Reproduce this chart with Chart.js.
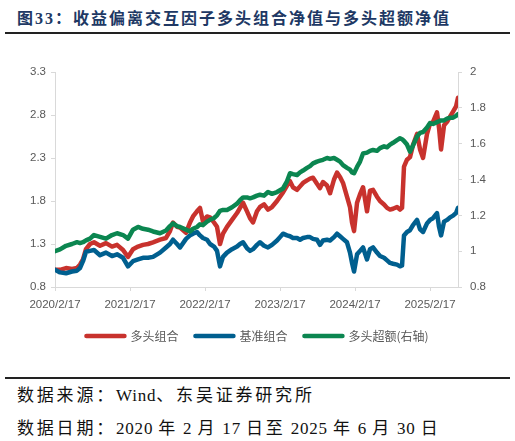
<!DOCTYPE html>
<html>
<head>
<meta charset="utf-8">
<script src="https://cdn.jsdelivr.net/npm/chart.js@4.4.1/dist/chart.umd.min.js"></script>
<style>
  html, body { margin: 0; padding: 0; background: #fff; }
  body { width: 515px; height: 441px; position: relative; overflow: hidden; }
  .title { position: absolute; left: 17px; top: 5px; font-family: "Liberation Serif", "Noto Sans CJK SC"; font-size: 16px; font-weight: bold; color: #203864; letter-spacing: 2px; white-space: nowrap; }
  .rule { position: absolute; left: 5px; width: 505px; height: 2px; background: #222; }
  .note { position: absolute; left: 17px; font-family: "Liberation Serif", "Noto Sans CJK SC"; font-size: 17px; color: #111; white-space: nowrap; letter-spacing: 2.8px; }
  .note .n { letter-spacing: 0.8px; }
  #wrap { position: absolute; left: 0; top: 40px; width: 515px; height: 312px; }
</style>
</head>
<body>
<div class="title">图33：收益偏离交互因子多头组合净值与多头超额净值</div>
<div class="rule" style="top:32px"></div>
<div id="wrap"><canvas id="chart" width="515" height="312"></canvas></div>
<div class="rule" style="top:377px"></div>
<div class="note" style="top:381px">数据来源：<span class="n">Wind</span>、东吴证券研究所</div>
<div class="note" style="top:414px">数据日期：<span class="n">2020 </span>年<span class="n"> 2 </span>月<span class="n"> 17 </span>日至<span class="n"> 2025 </span>年<span class="n"> 6 </span>月<span class="n"> 30 </span>日</div>

<script>
// years since 2020/2/17
const years = [0, 0.067, 0.147, 0.227, 0.293, 0.333, 0.373, 0.413, 0.467, 0.52,
  0.6, 0.68, 0.76, 0.827, 0.907, 0.973, 1.04, 1.107, 1.173, 1.24,
  1.307, 1.4, 1.48, 1.533, 1.573, 1.627, 1.667, 1.747, 1.8, 1.84,
  1.893, 1.933, 1.973, 2.027, 2.067, 2.12, 2.16, 2.2, 2.24, 2.293,
  2.36, 2.427, 2.467, 2.507, 2.56, 2.6, 2.64, 2.693, 2.733, 2.787,
  2.84, 2.893, 2.96, 3.0, 3.04, 3.093, 3.133, 3.173, 3.227, 3.267,
  3.307, 3.36, 3.4, 3.44, 3.493, 3.533, 3.573, 3.627, 3.667, 3.72,
  3.76, 3.8, 3.84, 3.893, 3.933, 3.96, 3.987, 4.027, 4.067, 4.107,
  4.16, 4.2, 4.24, 4.293, 4.333, 4.387, 4.427, 4.467, 4.507, 4.56,
  4.6, 4.627, 4.653, 4.693, 4.733, 4.773, 4.827, 4.867, 4.907, 4.96,
  5.0, 5.04, 5.093, 5.12, 5.147, 5.187, 5.227, 5.267, 5.307, 5.347,
  5.373]

// 多头组合 (left axis)
const longNav = [1.00, 1.00, 1.02, 1.01, 1.02, 1.06, 1.12, 1.24, 1.30, 1.32,
  1.28, 1.31, 1.27, 1.29, 1.23, 1.15, 1.24, 1.27, 1.29, 1.30,
  1.32, 1.35, 1.37, 1.45, 1.55, 1.50, 1.49, 1.43, 1.55, 1.62,
  1.68, 1.72, 1.56, 1.62, 1.61, 1.55, 1.50, 1.30, 1.42, 1.50,
  1.58, 1.66, 1.72, 1.78, 1.68, 1.60, 1.55, 1.68, 1.73, 1.76,
  1.70, 1.73, 1.80, 1.85, 1.90, 1.98, 2.03, 1.96, 1.93, 1.97,
  2.01, 2.04, 2.06, 2.07, 2.00, 1.95, 2.02, 1.98, 1.89, 2.05,
  2.13, 2.08, 2.01, 1.85, 1.73, 1.55, 1.45, 1.78, 1.88, 1.96,
  1.68, 1.92, 1.93, 1.85, 1.80, 1.76, 1.72, 1.70, 1.71, 1.73,
  1.70, 1.72, 2.20, 2.28, 2.31, 2.45, 2.58, 2.40, 2.30, 2.58,
  2.70, 2.72, 2.83, 2.65, 2.40, 2.68, 2.72, 2.78, 2.84, 2.90,
  3.00]

// 基准组合 (left axis)
const benchNav = [1.00, 0.97, 0.96, 0.98, 0.99, 1.02, 1.10, 1.21, 1.22, 1.23,
  1.17, 1.20, 1.16, 1.18, 1.14, 1.04, 1.10, 1.12, 1.14, 1.14,
  1.15, 1.20, 1.26, 1.30, 1.35, 1.30, 1.26, 1.36, 1.40, 1.42,
  1.44, 1.40, 1.37, 1.35, 1.30, 1.27, 1.22, 1.04, 1.15, 1.20,
  1.24, 1.27, 1.30, 1.32, 1.25, 1.22, 1.24, 1.29, 1.32, 1.28,
  1.26, 1.29, 1.34, 1.38, 1.42, 1.40, 1.39, 1.37, 1.37, 1.35,
  1.37, 1.38, 1.38, 1.36, 1.35, 1.29, 1.34, 1.35, 1.34, 1.38,
  1.42, 1.39, 1.36, 1.32, 1.20, 1.08, 0.98, 1.18, 1.22, 1.26,
  1.12, 1.24, 1.26, 1.20, 1.16, 1.14, 1.11, 1.08, 1.07, 1.06,
  1.04, 1.05, 1.40, 1.44, 1.46, 1.52, 1.58, 1.47, 1.44, 1.54,
  1.58, 1.60, 1.66, 1.50, 1.40, 1.56, 1.58, 1.61, 1.63, 1.66,
  1.72]

// 多头超额 (right axis)
const excessNav = [1.00, 1.01, 1.03, 1.04, 1.05, 1.045, 1.05, 1.06, 1.07, 1.09,
  1.08, 1.07, 1.09, 1.10, 1.09, 1.07, 1.12, 1.135, 1.125, 1.12,
  1.11, 1.10, 1.115, 1.14, 1.155, 1.14, 1.135, 1.12, 1.11, 1.125,
  1.135, 1.15, 1.145, 1.165, 1.175, 1.185, 1.20, 1.225, 1.23, 1.23,
  1.245, 1.265, 1.285, 1.30, 1.30, 1.295, 1.30, 1.31, 1.315, 1.31,
  1.33, 1.32, 1.33, 1.34, 1.35, 1.39, 1.435, 1.43, 1.425, 1.44,
  1.45, 1.465, 1.475, 1.49, 1.50, 1.505, 1.51, 1.52, 1.515, 1.52,
  1.51, 1.50, 1.48, 1.465, 1.455, 1.44, 1.435, 1.47, 1.50, 1.545,
  1.55, 1.56, 1.565, 1.56, 1.575, 1.585, 1.58, 1.595, 1.605, 1.62,
  1.63, 1.625, 1.615, 1.595, 1.555, 1.59, 1.64, 1.66, 1.665, 1.69,
  1.715, 1.71, 1.72, 1.725, 1.73, 1.73, 1.74, 1.745, 1.745, 1.755,
  1.765]

const xTickLabels = ['2020/2/17', '2021/2/17', '2022/2/17', '2023/2/17', '2024/2/17', '2025/2/17']
const seriesNames = ['多头组合', '基准组合', '多头超额(右轴)']
const seriesColors = ['#c8322d', '#005f8f', '#0b8650']

const toPoints = (vals) => vals.map((v, i) => ({x: years[i], y: v}))
const tickFont = {family: 'Liberation Sans', size: 11.5}
const axisGray = '#d9d9d9'

const ctx = document.getElementById('chart').getContext('2d')
new Chart(ctx, {
  type: 'line',
  data: {
    datasets: [{
      label: seriesNames[0],
      data: toPoints(longNav),
      borderColor: seriesColors[0],
      backgroundColor: seriesColors[0],
      yAxisID: 'y',
      order: 3
    }, {
      label: seriesNames[1],
      data: toPoints(benchNav),
      borderColor: seriesColors[1],
      backgroundColor: seriesColors[1],
      yAxisID: 'y',
      order: 2
    }, {
      label: seriesNames[2],
      data: toPoints(excessNav),
      borderColor: seriesColors[2],
      backgroundColor: seriesColors[2],
      yAxisID: 'y1',
      order: 1
    }]
  },
  options: {
    responsive: false,
    animation: false,
    layout: {padding: {top: 32, left: 0, right: 0, bottom: 0}},
    elements: {
      line: {borderWidth: 4.5, tension: 0, borderCapStyle: 'round', borderJoinStyle: 'round'},
      point: {radius: 0}
    },
    plugins: {
      tooltip: {enabled: false},
      legend: {
        position: 'bottom',
        labels: {
          usePointStyle: true,
          pointStyle: 'line',
          pointStyleWidth: 38,
          padding: 17,
          color: '#595959',
          font: {family: 'Noto Sans CJK SC', size: 12},
          sort: (a, b) => a.datasetIndex - b.datasetIndex,
          generateLabels: (chart) => {
            const items = Chart.defaults.plugins.legend.labels.generateLabels(chart)
            items.forEach((item) => {
              item.lineWidth = 4.5
              item.lineCap = 'round'
            })
            return items
          }
        }
      }
    },
    scales: {
      x: {
        type: 'linear',
        min: 0,
        max: years[years.length - 1],
        afterFit: (scale) => { scale.height = 26 },
        grid: {display: true, drawOnChartArea: false, tickLength: 4, color: axisGray},
        border: {color: axisGray},
        ticks: {
          stepSize: 1,
          includeBounds: false,
          maxRotation: 0,
          padding: 7,
          color: '#595959',
          font: tickFont,
          callback: (v) => xTickLabels[v]
        }
      },
      y: {
        position: 'left',
        min: 0.8,
        max: 3.3,
        afterFit: (scale) => { scale.width = 55 },
        grid: {display: true, drawOnChartArea: false, tickLength: 4, color: axisGray},
        border: {color: axisGray},
        ticks: {stepSize: 0.5, padding: 5, color: '#595959', font: tickFont,
          callback: (v) => v.toFixed(1)}
      },
      y1: {
        position: 'right',
        min: 0.8,
        max: 2,
        afterFit: (scale) => { scale.width = 57 },
        grid: {display: true, drawOnChartArea: false, tickLength: 4, color: axisGray},
        border: {color: axisGray},
        ticks: {stepSize: 0.2, padding: 8, color: '#595959', font: tickFont,
          callback: (v) => String(Math.round(v * 10) / 10)}
      }
    }
  }
})
</script>
</body>
</html>
